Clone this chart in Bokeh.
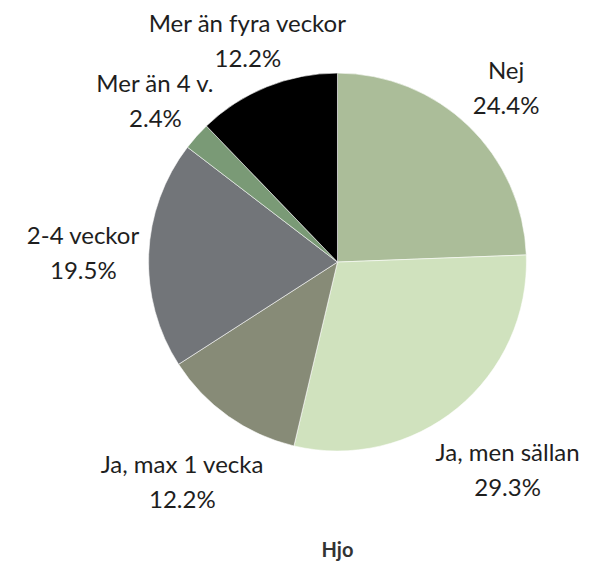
import math
from bokeh.plotting import figure
from bokeh.models import Range1d, ColumnDataSource
from bokeh.core.properties import value
from bokeh.embed import file_html
from bokeh.resources import INLINE

categories = ["Nej", "Ja, men sällan", "Ja, max 1 vecka", "2-4 veckor", "Mer än 4 v.", "Mer än fyra veckor"]
percents = [24.4, 29.3, 12.2, 19.5, 2.4, 12.2]
colors = ["#abbd99", "#d0e2be", "#878b77", "#727579", "#7a9a76", "#000000"]
title_text = "Hjo"

W, H = 598, 563
# chart laid out in a 614 x 579 design space, scaled into the figure
DW, DH = 614, 579
cx, cy, R = 346, 310, 194

p = figure(width=W, height=H, output_backend="svg", toolbar_location=None,
           x_range=Range1d(0, DW), y_range=Range1d(0, DH), min_border=0)
p.axis.visible = False
p.grid.visible = False
p.outline_line_color = None
p.background_fill_color = "white"
p.border_fill_color = "white"

total = sum(percents)
starts, ends, mids = [], [], []
cum = 0.0
for v in percents:
    f0 = cum / total
    cum += v
    f1 = cum / total
    starts.append(math.pi / 2 - f0 * 2 * math.pi)
    ends.append(math.pi / 2 - f1 * 2 * math.pi)
    mids.append((f0 + f1) / 2 * 2 * math.pi)  # clockwise from top

src = ColumnDataSource(dict(start=starts, end=ends, color=colors))
p.wedge(x=cx, y=cy, radius=R, start_angle="start", end_angle="end", direction="clock",
        fill_color="color", line_color="white", line_width=0.7, line_alpha=0.8, source=src)

lx, ly_name, ly_pct, names, pcts = [], [], [], [], []
for name, v, th in zip(categories, percents, mids):
    ux, uy = math.sin(th), math.cos(th)
    d = R * 1.35 - 0.088 * R * uy
    x = cx + d * ux
    y = cy + d * uy
    lx.append(x)
    ly_name.append(y + 18)
    ly_pct.append(y - 18)
    names.append(name)
    pcts.append(f"{v:.1f}%")

p.text(x=lx, y=ly_name, text=names, text_align="center", text_baseline="middle",
       text_font=value("Lato"), text_font_size="24px", text_color="#1e1e1e")
p.text(x=lx, y=ly_pct, text=pcts, text_align="center", text_baseline="middle",
       text_font=value("Lato"), text_font_size="24px", text_color="#1e1e1e")

p.text(x=[cx], y=[15], text=[title_text], text_align="center", text_baseline="middle",
       text_font=value("Lato"), text_font_size="20px", text_font_style="bold",
       text_color="#333333")

open("out.html", "w").write(file_html(p, INLINE))
